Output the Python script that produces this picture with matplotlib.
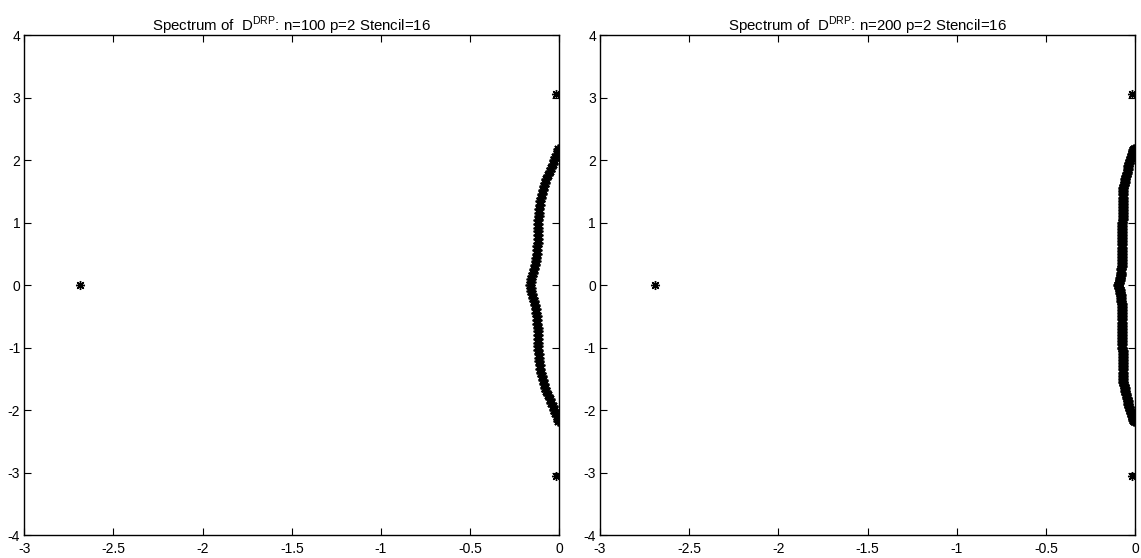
import numpy as np
import matplotlib
matplotlib.use("Agg")
import matplotlib.pyplot as plt

plt.rcParams['font.family'] = ['Liberation Sans', 'DejaVu Sans']
plt.rcParams['mathtext.fontset'] = 'custom'
plt.rcParams['mathtext.rm'] = 'Liberation Sans'
plt.rcParams['axes.unicode_minus'] = False

# Upper half of the spectrum (eigenvalues come in conjugate pairs)
imag100 = [0.00, 0.05, 0.10, 0.15, 0.20, 0.26, 0.32, 0.38, 0.44, 0.50, 0.56, 0.62, 0.68,
           0.74, 0.80, 0.86, 0.92, 0.98, 1.04, 1.10, 1.16, 1.22, 1.28, 1.34, 1.40, 1.46,
           1.52, 1.58, 1.64, 1.70, 1.76, 1.82, 1.88, 1.94, 2.00, 2.05, 2.10, 2.14, 2.17]
real100 = [-0.164, -0.160, -0.156, -0.151, -0.145, -0.140, -0.136, -0.132, -0.128, -0.126,
           -0.124, -0.123, -0.122, -0.121, -0.120, -0.119, -0.119, -0.118, -0.117, -0.116,
           -0.114, -0.112, -0.110, -0.107, -0.104, -0.099, -0.094, -0.088, -0.081, -0.073,
           -0.064, -0.055, -0.046, -0.037, -0.029, -0.022, -0.015, -0.010, -0.006]

imag200 = [0.00, 0.04, 0.08, 0.12, 0.16, 0.20, 0.25, 0.30, 0.35, 0.40, 0.45, 0.50, 0.55,
           0.60, 0.65, 0.70, 0.75, 0.80, 0.85, 0.90, 0.95, 1.00, 1.05, 1.10, 1.15, 1.20,
           1.25, 1.30, 1.35, 1.40, 1.45, 1.50, 1.55, 1.60, 1.65, 1.70, 1.75, 1.80, 1.85,
           1.90, 1.95, 2.00, 2.05, 2.09, 2.13, 2.16, 2.18]
real200 = [-0.094, -0.091, -0.087, -0.083, -0.080, -0.078, -0.077, -0.076, -0.075, -0.075,
           -0.075, -0.074, -0.074, -0.073, -0.073, -0.072, -0.072, -0.072, -0.071, -0.071,
           -0.071, -0.071, -0.070, -0.070, -0.070, -0.070, -0.069, -0.069, -0.069, -0.069,
           -0.068, -0.067, -0.065, -0.062, -0.058, -0.054, -0.050, -0.046, -0.042, -0.038,
           -0.034, -0.029, -0.024, -0.019, -0.014, -0.010, -0.007]

# Isolated eigenvalues (upper half / real)
outlier_real = [-0.02, -2.69]
outlier_imag = [3.06, 0.00]

titles = [r'Spectrum of  D$^{\mathrm{DRP}}$: n=100 p=2 Stencil=16',
          r'Spectrum of  D$^{\mathrm{DRP}}$: n=200 p=2 Stencil=16']
xticks = [-3, -2.5, -2, -1.5, -1, -0.5, 0]
xticklabels = ['-3', '-2.5', '-2', '-1.5', '-1', '-0.5', '0']
yticks = [-4, -3, -2, -1, 0, 1, 2, 3, 4]
yticklabels = ['-4', '-3', '-2', '-1', '0', '1', '2', '3', '4']


def full_spectrum(re, im):
    re = np.asarray(re)
    im = np.asarray(im)
    x = np.concatenate([re, re[1:]])
    y = np.concatenate([im, -im[1:]])
    return x, y


fig = plt.figure(figsize=(11.41, 5.58), dpi=100)
positions = [[0.0213, 0.0412, 0.4689, 0.8960], [0.5259, 0.0412, 0.4689, 0.8960]]
data = [(real100, imag100), (real200, imag200)]
curve_mew = [1.3, 1.8]
asterisk = (8, 2, 0)

for pos, (re, im), title, mew in zip(positions, data, titles, curve_mew):
    ax = fig.add_axes(pos)
    x, y = full_spectrum(re, im)
    ax.plot(x, y, linestyle='none', marker=asterisk, markersize=7,
            markeredgewidth=mew, color='black')
    ore = np.asarray(outlier_real)
    oim = np.asarray(outlier_imag)
    ax.plot(np.concatenate([ore, ore[oim != 0]]),
            np.concatenate([oim, -oim[oim != 0]]),
            linestyle='none', marker=asterisk, markersize=6.5,
            markeredgewidth=1.0, color='black')
    ax.set_xlim(-3, 0)
    ax.set_ylim(-4, 4)
    ax.set_xticks(xticks)
    ax.set_xticklabels(xticklabels)
    ax.set_yticks(yticks)
    ax.set_yticklabels(yticklabels)
    ax.tick_params(direction='in', top=True, right=True, length=5, width=0.8,
                   labelsize=10, pad=3)
    ax.tick_params(axis='x', pad=5)
    for s in ax.spines.values():
        s.set_linewidth(1.0)
    ax.set_title(title, fontsize=10.8, pad=3)

fig.savefig('out.png', dpi=100)
